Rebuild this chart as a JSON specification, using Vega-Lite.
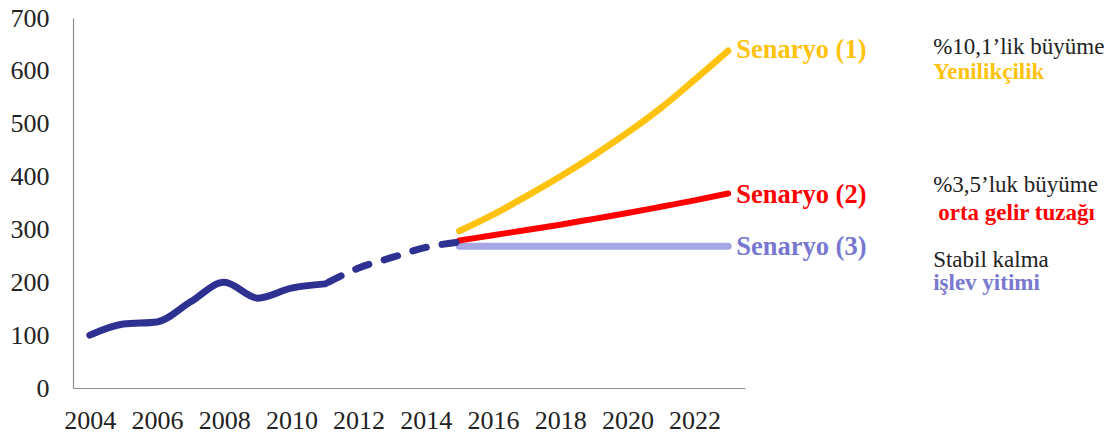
{
  "$schema": "https://vega.github.io/schema/vega-lite/v6.json",
  "width": 672,
  "height": 370,
  "autosize": {"type": "none"},
  "padding": {"left": 73, "top": 18, "right": 369, "bottom": 49},
  "background": "white",
  "config": {
    "view": {"stroke": null},
    "font": "Liberation Serif",
    "axis": {
      "grid": false,
      "ticks": false,
      "domainColor": "#8f8f8f",
      "domainWidth": 1.2,
      "labelFont": "Liberation Serif",
      "labelFontSize": 26,
      "labelColor": "#222222",
      "title": null
    }
  },
  "datasets": {
    "lines": [
      {"year": 2004, "value": 100, "series": "hist"},
      {"year": 2005, "value": 121, "series": "hist"},
      {"year": 2006, "value": 125, "series": "hist"},
      {"year": 2007, "value": 163, "series": "hist"},
      {"year": 2008, "value": 200, "series": "hist"},
      {"year": 2009, "value": 170, "series": "hist"},
      {"year": 2010, "value": 189, "series": "hist"},
      {"year": 2011, "value": 197, "series": "hist"},
      {"year": 2011, "value": 197, "series": "histdash"},
      {"year": 2012, "value": 227, "series": "histdash"},
      {"year": 2013, "value": 247, "series": "histdash"},
      {"year": 2014, "value": 266, "series": "histdash"},
      {"year": 2015, "value": 276, "series": "histdash"},
      {"year": 2015, "value": 268, "series": "s3"},
      {"year": 2023, "value": 268, "series": "s3"},
      {"year": 2015, "value": 279, "series": "s2"},
      {"year": 2016, "value": 289, "series": "s2"},
      {"year": 2017, "value": 299, "series": "s2"},
      {"year": 2018, "value": 309, "series": "s2"},
      {"year": 2019, "value": 320, "series": "s2"},
      {"year": 2020, "value": 331, "series": "s2"},
      {"year": 2021, "value": 343, "series": "s2"},
      {"year": 2022, "value": 355, "series": "s2"},
      {"year": 2023, "value": 368, "series": "s2"},
      {"year": 2015, "value": 297, "series": "s1"},
      {"year": 2016, "value": 328, "series": "s1"},
      {"year": 2017, "value": 363, "series": "s1"},
      {"year": 2018, "value": 400, "series": "s1"},
      {"year": 2019, "value": 440, "series": "s1"},
      {"year": 2020, "value": 483, "series": "s1"},
      {"year": 2021, "value": 530, "series": "s1"},
      {"year": 2022, "value": 583, "series": "s1"},
      {"year": 2023, "value": 638, "series": "s1"}
    ],
    "labels": [
      {"year": 2023, "value": 639, "text": "Senaryo (1)", "group": "s1"},
      {"year": 2023, "value": 365, "text": "Senaryo (2)", "group": "s2"},
      {"year": 2023, "value": 267, "text": "Senaryo (3)", "group": "s3text"}
    ],
    "notes": [
      {"year": 2029.1, "value": 645, "text": "%10,1’lik büyüme", "group": "plain", "weight": "normal"},
      {"year": 2029.1, "value": 597, "text": "Yenilikçilik", "group": "s1", "weight": "bold"},
      {"year": 2029.1, "value": 384, "text": "%3,5’luk büyüme", "group": "plain", "weight": "normal"},
      {"year": 2029.25, "value": 331, "text": "orta gelir tuzağı", "group": "s2", "weight": "bold"},
      {"year": 2029.1, "value": 242, "text": "Stabil kalma", "group": "plain", "weight": "normal"},
      {"year": 2029.1, "value": 198, "text": "işlev yitimi", "group": "s3text", "weight": "bold"}
    ]
  },
  "encoding": {
    "x": {
      "field": "year",
      "type": "quantitative",
      "scale": {"domain": [2003.5, 2023.5], "nice": false, "zero": false},
      "axis": {"values": [2004, 2006, 2008, 2010, 2012, 2014, 2016, 2018, 2020, 2022], "format": "d", "labelPadding": 19, "labelFlush": false}
    },
    "y": {
      "field": "value",
      "type": "quantitative",
      "scale": {"domain": [0, 700], "nice": false},
      "axis": {"values": [0, 100, 200, 300, 400, 500, 600, 700], "labelPadding": 24}
    },
    "color": {
      "field": "group",
      "type": "nominal",
      "legend": null,
      "scale": {
        "domain": ["hist", "s1", "s2", "s3", "s3text", "plain"],
        "range": ["#2E3192", "#FFC20E", "#FF0000", "#A7A7E4", "#7878D0", "#222222"]
      }
    }
  },
  "layer": [
    {
      "data": {"name": "lines"},
      "transform": [{"filter": "datum.series === 's3'"}, {"calculate": "'s3'", "as": "group"}],
      "mark": {"type": "line", "strokeWidth": 7, "strokeCap": "round", "clip": false}
    },
    {
      "data": {"name": "lines"},
      "transform": [{"filter": "datum.series === 's2'"}, {"calculate": "'s2'", "as": "group"}],
      "mark": {"type": "line", "strokeWidth": 6, "strokeCap": "round", "interpolate": "monotone", "clip": false}
    },
    {
      "data": {"name": "lines"},
      "transform": [{"filter": "datum.series === 's1'"}, {"calculate": "'s1'", "as": "group"}],
      "mark": {"type": "line", "strokeWidth": 6.5, "strokeCap": "round", "interpolate": "monotone", "clip": false}
    },
    {
      "data": {"name": "lines"},
      "transform": [{"filter": "datum.series === 'hist'"}, {"calculate": "'hist'", "as": "group"}],
      "mark": {"type": "line", "strokeWidth": 7, "strokeCap": "round", "strokeJoin": "round", "interpolate": "monotone", "clip": false}
    },
    {
      "data": {"name": "lines"},
      "transform": [{"filter": "datum.series === 'histdash'"}, {"calculate": "'hist'", "as": "group"}],
      "mark": {"type": "line", "strokeWidth": 7, "strokeCap": "round", "strokeDash": [14, 16], "strokeDashOffset": -4, "interpolate": "monotone", "clip": false}
    },
    {
      "data": {"name": "labels"},
      "mark": {"type": "text", "align": "left", "baseline": "middle", "dx": 8, "fontSize": 26.5, "fontWeight": "bold", "font": "Liberation Serif", "clip": false},
      "encoding": {"text": {"field": "text"}}
    },
    {
      "data": {"name": "notes"},
      "transform": [{"filter": "datum.weight === 'normal'"}],
      "mark": {"type": "text", "align": "left", "baseline": "middle", "fontSize": 23, "font": "Liberation Serif", "clip": false},
      "encoding": {"text": {"field": "text"}}
    },
    {
      "data": {"name": "notes"},
      "transform": [{"filter": "datum.weight === 'bold'"}],
      "mark": {"type": "text", "align": "left", "baseline": "middle", "fontSize": 23, "fontWeight": "bold", "font": "Liberation Serif", "clip": false},
      "encoding": {"text": {"field": "text"}}
    }
  ]
}
